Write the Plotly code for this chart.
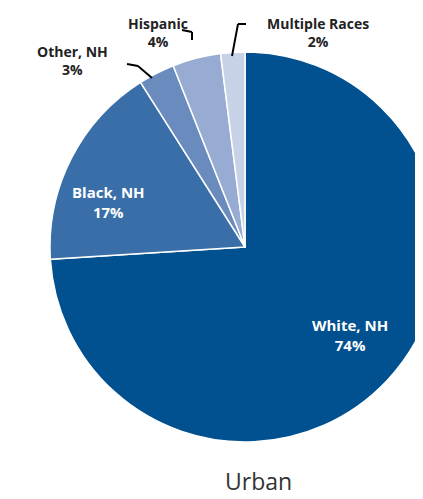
import plotly.graph_objects as go

labels = ["White, NH", "Black, NH", "Other, NH", "Hispanic", "Multiple Races"]
values = [74, 17, 3, 4, 2]
colors = ["#01508f", "#3a6ea8", "#6a8bbd", "#97abd3", "#c8d2e7"]

W, H = 490, 499
OFF = 8  # page body margin
def px(x): return (x - OFF) / W
def py(y): return 1 - (y - OFF) / H

fig = go.Figure(go.Pie(
    labels=labels, values=values, sort=False, direction="clockwise", rotation=0,
    marker=dict(colors=colors, line=dict(color="white", width=1.5)),
    textinfo="none",
    domain=dict(x=[px(50), px(440)], y=[py(442), py(52)]),
    showlegend=False, hoverinfo="label+percent",
))

def ann(x, y, t, size=14, color="#222"):
    fig.add_annotation(x=px(x), y=py(y), xref="paper", yref="paper", text=t, showarrow=False,
                       xanchor="center", yanchor="middle",
                       font=dict(family="Open Sans", size=size, color=color), align="center")
ann(72, 60, f"<b>{labels[2]}<br>{values[2]}%</b>")
ann(158, 32, f"<b>{labels[3]}<br>{values[3]}%</b>")
ann(318, 32, f"<b>{labels[4]}<br>{values[4]}%</b>")
ann(350, 335, f"<b>{labels[0]}<br>{values[0]}%</b>", 15, "white")
ann(108, 202, f"<b>{labels[1]}<br>{values[1]}%</b>", 15, "white")
ann(258, 481, "Urban", 23, "#333")

def line(pts):
    for (a, b), (c, d) in zip(pts[:-1], pts[1:]):
        fig.add_shape(type="line", x0=px(a), y0=py(b), x1=px(c), y1=py(d),
                      xref="paper", yref="paper", line=dict(color="black", width=2))
line([(127, 64), (138, 66), (152, 78)])
line([(182, 30), (192, 32), (192, 40)])
line([(246, 24), (238, 24), (232, 56)])

fig.update_layout(width=W, height=H, autosize=False, margin=dict(l=0, r=0, t=0, b=0),
                  paper_bgcolor="white", plot_bgcolor="white")
fig.write_html("out.html")
